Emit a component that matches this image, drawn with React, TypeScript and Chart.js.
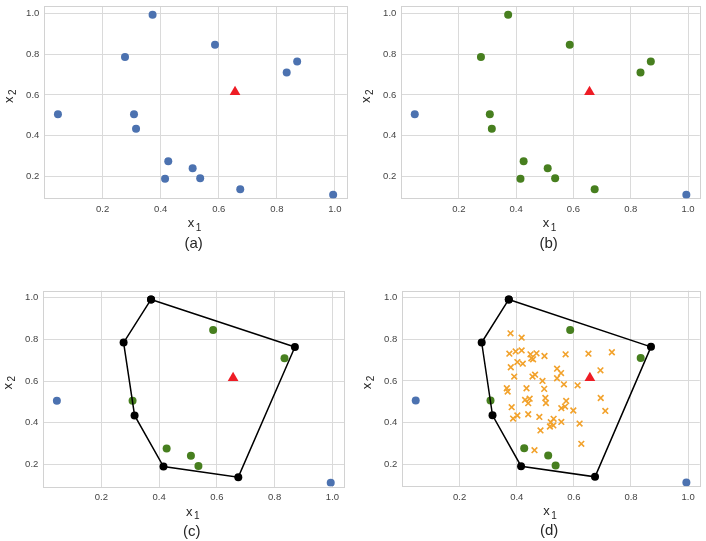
import React, { useEffect, useRef } from 'react';
import { Chart, registerables } from 'chart.js';

Chart.register(...registerables);

// ---------- data ----------
const SAMPLE_X = [0.372, 0.587, 0.277, 0.870, 0.834, 0.046, 0.308, 0.315, 0.426, 0.510, 0.536, 0.415, 0.674, 0.994];
const SAMPLE_Y = [0.992, 0.845, 0.785, 0.764, 0.710, 0.506, 0.506, 0.435, 0.276, 0.242, 0.193, 0.190, 0.139, 0.112];
const HULL_ORDER = [0, 3, 12, 11, 7, 2];
const INSIDE_IDX = [1, 4, 6, 8, 9, 10];
const OUTSIDE_IDX = [5, 13];
const TARGET_X = [0.656];
const TARGET_Y = [0.615];

const CAND_X = [0.378, 0.417, 0.374, 0.396, 0.417, 0.448, 0.451, 0.457, 0.469, 0.497, 0.571, 0.651, 0.733, 0.379, 0.402, 0.421, 0.391, 0.541, 0.555, 0.541, 0.455, 0.464, 0.490, 0.565, 0.613, 0.693, 0.365, 0.368, 0.434, 0.496, 0.429, 0.445, 0.440, 0.500, 0.502, 0.573, 0.569, 0.556, 0.598, 0.694, 0.710, 0.382, 0.402, 0.387, 0.440, 0.479, 0.529, 0.519, 0.556, 0.516, 0.528, 0.483, 0.620, 0.626, 0.462];
const CAND_Y = [0.829, 0.808, 0.731, 0.742, 0.747, 0.728, 0.709, 0.704, 0.733, 0.720, 0.728, 0.731, 0.738, 0.666, 0.691, 0.683, 0.621, 0.659, 0.638, 0.613, 0.621, 0.630, 0.600, 0.584, 0.579, 0.651, 0.565, 0.549, 0.565, 0.562, 0.509, 0.515, 0.493, 0.518, 0.494, 0.504, 0.477, 0.469, 0.458, 0.518, 0.456, 0.474, 0.434, 0.419, 0.440, 0.427, 0.418, 0.402, 0.403, 0.381, 0.386, 0.362, 0.395, 0.298, 0.267];

const X_TICKS = [0.2, 0.4, 0.6, 0.8, 1.0];
const Y_TICKS = [0.2, 0.4, 0.6, 0.8, 1.0];
const X_RANGE = [-0.001, 1.041];
const Y_RANGE = [0.094, 1.034];
const CAPTIONS = ['(a)', '(b)', '(c)', '(d)'];

// ---------- styles ----------
const BLUE = '#4c72b0';
const GREEN = '#477f1f';
const RED = '#ee1c25';
const ORANGE = '#f2a22c';
const GRID = '#dadada';
const FONT = '"Liberation Sans", Arial, sans-serif';

const PANELS = [
  { left: 0, top: 0, w: 353, h: 270, plot: { l: 44.3, t: 2.7, r: 348, b: 198.4 } },
  { left: 353, top: 0, w: 353, h: 270, plot: { l: 48.3, t: 2.7, r: 350, b: 198.4 } },
  { left: 0, top: 270, w: 353, h: 271, plot: { l: 43.3, t: 20.7, r: 344.3, b: 216.5 } },
  { left: 353, top: 270, w: 353, h: 271, plot: { l: 49.3, t: 20.7, r: 351.7, b: 216.2 } },
];

const pts = (idx: number[]) => idx.map((i) => ({ x: SAMPLE_X[i], y: SAMPLE_Y[i] }));
const allIdx = SAMPLE_X.map((_, i) => i);

function buildDatasets(panel: number): any[] {
  const target = {
    data: TARGET_X.map((x, i) => ({ x, y: TARGET_Y[i] })),
    pointStyle: 'triangle',
    pointRadius: 6.2,
    backgroundColor: RED,
    borderColor: RED,
    borderWidth: 0,
  };
  const circle = (data: any[], color: string) => ({
    data,
    pointStyle: 'circle',
    pointRadius: 4,
    backgroundColor: color,
    borderColor: color,
    borderWidth: 0,
  });
  if (panel === 0) return [target, circle(pts(allIdx), BLUE)];
  if (panel === 1) {
    const greens = allIdx.filter((i) => !OUTSIDE_IDX.includes(i));
    return [target, circle(pts(greens), GREEN), circle(pts(OUTSIDE_IDX), BLUE)];
  }
  const hullData = pts([...HULL_ORDER, HULL_ORDER[0]]);
  const hull = {
    data: hullData,
    showLine: true,
    borderColor: '#000',
    borderWidth: 1.5,
    pointStyle: 'circle',
    pointRadius: 4,
    pointBackgroundColor: '#000',
    pointBorderWidth: 0,
    backgroundColor: '#000',
    fill: false,
  };
  const list: any[] = [target];
  if (panel === 3) {
    list.push({
      data: CAND_X.map((x, i) => ({ x, y: CAND_Y[i] })),
      pointStyle: 'crossRot',
      pointRadius: 4,
      borderColor: ORANGE,
      backgroundColor: ORANGE,
      borderWidth: 1.6,
    });
  }
  list.push(hull, circle(pts(INSIDE_IDX), GREEN), circle(pts(OUTSIDE_IDX), BLUE));
  return list;
}

const labelsPlugin = {
  id: 'panelLabels',
  beforeDatasetsDraw(chart: any) {
    const { left, right, top, bottom } = chart.chartArea;
    const ctx = chart.ctx;
    ctx.save();
    ctx.strokeStyle = '#d2d2d2';
    ctx.lineWidth = 1;
    ctx.strokeRect(Math.round(left) + 0.5, Math.round(top) + 0.5, Math.round(right) - Math.round(left), Math.round(bottom) - Math.round(top));
    ctx.restore();
  },
  afterDraw(chart: any, _args: any, opts: any) {
    const { left, right, top, bottom } = chart.chartArea;
    const ctx = chart.ctx;
    const cx = (left + right) / 2;
    const cy = (top + bottom) / 2;
    ctx.save();
    ctx.fillStyle = '#262626';
    ctx.textAlign = 'left';
    ctx.textBaseline = 'alphabetic';
    ctx.font = `13px ${FONT}`;
    const wx = ctx.measureText('x').width;
    ctx.font = `10px ${FONT}`;
    const w1 = ctx.measureText('1').width;
    const total = wx + 1.5 + w1;
    // x label
    const sx = cx - total / 2 - 1;
    ctx.font = `13px ${FONT}`;
    ctx.fillText('x', sx, bottom + 29);
    ctx.font = `10px ${FONT}`;
    ctx.fillText('1', sx + wx + 1.5, bottom + 32.5);
    // y label
    ctx.save();
    ctx.translate(left - 31.8, cy);
    ctx.rotate(-Math.PI / 2);
    const sy = -total / 2 + 6;
    ctx.font = `13px ${FONT}`;
    ctx.fillText('x', sy, 0);
    ctx.font = `10px ${FONT}`;
    ctx.fillText('2', sy + wx + 1.5, 3.5);
    ctx.restore();
    // caption
    ctx.font = `15px ${FONT}`;
    ctx.textAlign = 'center';
    ctx.textBaseline = 'middle';
    ctx.fillText(opts.caption, cx - 2, bottom + 45);
    ctx.restore();
  },
};

function Panel({ index }: { index: number }) {
  const ref = useRef<HTMLCanvasElement | null>(null);
  const spec = PANELS[index];
  useEffect(() => {
    if (!ref.current) return;
    const { w, h, plot } = spec;
    const fixPad = (s: any) => {
      s.paddingTop = 0;
      s.paddingBottom = 0;
      s.paddingLeft = 0;
      s.paddingRight = 0;
    };
    const tickFont = { family: FONT, size: 9.5 };
    const chart = new Chart(ref.current, {
      type: 'scatter',
      data: { datasets: buildDatasets(index) },
      plugins: [labelsPlugin],
      options: {
        animation: false,
        responsive: false,
        devicePixelRatio: 1,
        layout: { padding: { left: 0, top: plot.t, right: w - plot.r, bottom: 0 } },
        plugins: {
          legend: { display: false },
          tooltip: { enabled: false },
          panelLabels: { caption: CAPTIONS[index] },
        } as any,
        scales: {
          x: {
            type: 'linear',
            min: X_RANGE[0],
            max: X_RANGE[1],
            afterBuildTicks: (s: any) => {
              s.ticks = X_TICKS.map((v) => ({ value: v }));
            },
            afterFit: (s: any) => {
              s.height = h - plot.b;
              fixPad(s);
            },
            ticks: {
              callback: (v: any) => Number(v).toFixed(1),
              font: tickFont,
              color: '#444',
              padding: 5,
              maxRotation: 0,
            },
            grid: { color: GRID, lineWidth: 1, drawTicks: false },
            border: { display: false },
          },
          y: {
            type: 'linear',
            min: Y_RANGE[0],
            max: Y_RANGE[1],
            afterBuildTicks: (s: any) => {
              s.ticks = Y_TICKS.map((v) => ({ value: v }));
            },
            afterFit: (s: any) => {
              s.width = plot.l;
              fixPad(s);
            },
            ticks: {
              callback: (v: any) => Number(v).toFixed(1),
              font: tickFont,
              color: '#444',
              padding: 5,
            },
            grid: { color: GRID, lineWidth: 1, drawTicks: false },
            border: { display: false },
          },
        },
      } as any,
    });
    return () => chart.destroy();
  }, []);
  return (
    <canvas
      ref={ref}
      width={spec.w}
      height={spec.h}
      style={{ position: 'absolute', left: spec.left, top: spec.top, width: spec.w, height: spec.h }}
    />
  );
}

export default function App() {
  return (
    <div style={{ position: 'fixed', left: 0, top: 0, width: 706, height: 541, background: '#fff' }}>
      {PANELS.map((_, i) => (
        <Panel key={i} index={i} />
      ))}
    </div>
  );
}
